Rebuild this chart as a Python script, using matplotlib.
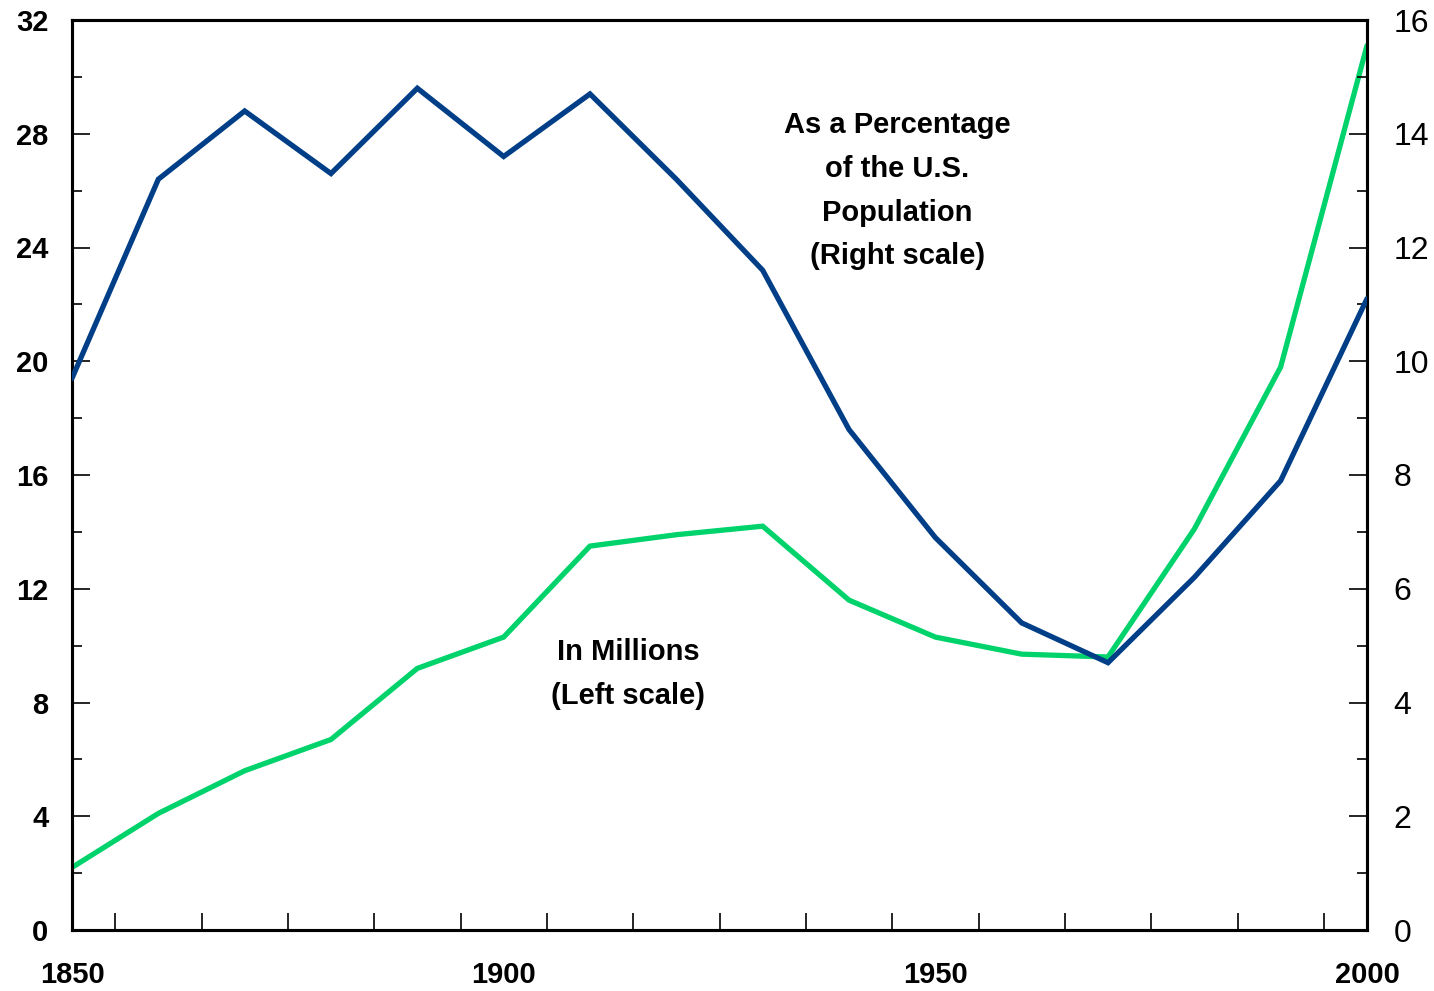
import matplotlib
matplotlib.use("Agg")
import matplotlib.pyplot as plt
from matplotlib import font_manager
import numpy as np

years = [1850, 1860, 1870, 1880, 1890, 1900, 1910, 1920, 1930, 1940, 1950, 1960, 1970, 1980, 1990, 2000]
millions = [2.2, 4.1, 5.6, 6.7, 9.2, 10.3, 13.5, 13.9, 14.2, 11.6, 10.3, 9.7, 9.6, 14.1, 19.8, 31.1]
percent = [9.7, 13.2, 14.4, 13.3, 14.8, 13.6, 14.7, 13.2, 11.6, 8.8, 6.9, 5.4, 4.7, 6.2, 7.9, 11.1]

names = {f.name for f in font_manager.fontManager.ttflist}
fam = ['Liberation Sans Narrow', 'DejaVu Sans'] if 'Liberation Sans Narrow' in names else ['Liberation Sans', 'DejaVu Sans']
plt.rcParams['font.family'] = fam

fig = plt.figure(figsize=(14.34, 9.91), dpi=100)
ax = fig.add_axes([72/1434, 61/991, (1367-72)/1434, 910/991])
ax2 = ax.twinx()

green = '#00d36b'
blue = '#003f87'
ax.plot(years, millions, color=green, lw=3.8, solid_capstyle='round', solid_joinstyle='miter', zorder=3)
ax2.plot(years, percent, color=blue, lw=3.8, solid_capstyle='round', solid_joinstyle='miter', zorder=3)

ax.set_xlim(1850, 2000)
ax.set_ylim(0, 32)
ax2.set_ylim(0, 16)

for a in (ax, ax2):
    for s in a.spines.values():
        s.set_linewidth(2.2)
        s.set_color('black')

ax.set_xticks([1850, 1900, 1950, 2000])
ax.set_xticks(np.arange(1855, 2000, 10), minor=True)
ax.tick_params(axis='x', which='major', length=0, pad=22, labelsize=21)
ax.tick_params(axis='x', which='minor', length=12.5, width=1.2, direction='in')
for lab in ax.get_xticklabels():
    lab.set_fontweight('bold')

ax.set_yticks(np.arange(0, 33, 4))
ax.set_yticks(np.arange(2, 32, 4), minor=True)
ax.tick_params(axis='y', which='major', length=13, width=1.2, direction='in', pad=17, labelsize=21)
ax.tick_params(axis='y', which='minor', length=7, width=1.2, direction='in')
for lab in ax.get_yticklabels():
    lab.set_fontweight('bold')

ax2.set_yticks(np.arange(0, 17, 2))
ax2.set_yticks(np.arange(1, 16, 2), minor=True)
ax2.tick_params(axis='y', which='major', length=13, width=1.2, direction='in', pad=19, labelsize=23)
ax2.tick_params(axis='y', which='minor', length=7, width=1.2, direction='in')

ax2.text(1945.6, 13.0, "As a Percentage\nof the U.S.\nPopulation\n(Right scale)", ha='center', va='center',
         fontsize=21, fontweight='bold', linespacing=1.72)
ax.text(1914.4, 9.0, "In Millions\n(Left scale)", ha='center', va='center',
        fontsize=21, fontweight='bold', linespacing=1.72)

fig.savefig('out.png', dpi=100)
